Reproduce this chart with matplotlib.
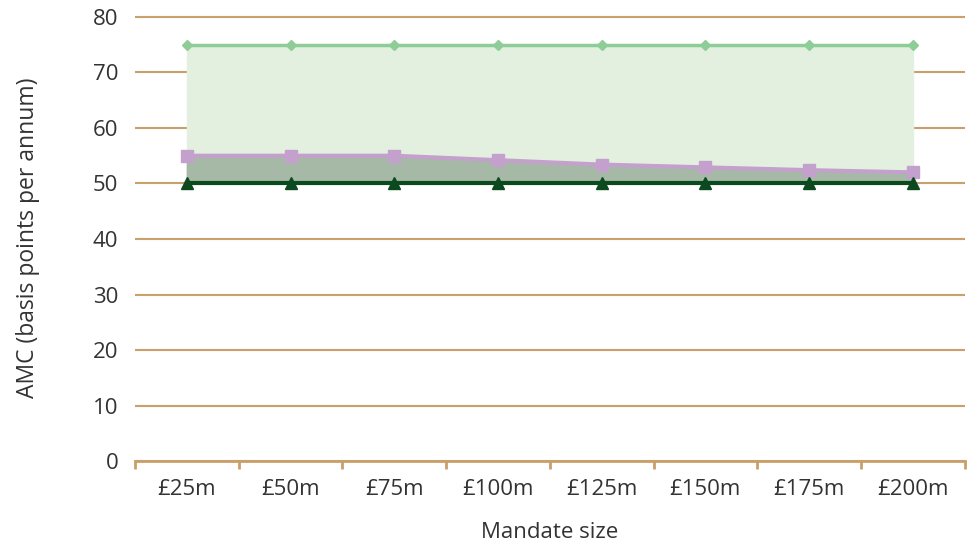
import numpy as np
from matplotlib import pyplot as plt
from matplotlib.ticker import FixedLocator

plt.rcParams['font.family'] = ['Open Sans', 'DejaVu Sans']

categories = ['£25m', '£50m', '£75m', '£100m', '£125m', '£150m', '£175m', '£200m']
upper = [75, 75, 75, 75, 75, 75, 75, 75]
middle = [55, 55, 55, 54.2, 53.4, 52.9, 52.4, 52.0]
lower = [50, 50, 50, 50, 50, 50, 50, 50]

grid_c = '#c9a06a'
x = np.arange(len(categories))

fig = plt.figure(figsize=(9.67, 5.45), dpi=100)
ax = fig.add_axes([0.1396, 0.154, 0.858, 0.82])

ax.fill_between(x, lower, upper, color='#e3f0e0', zorder=1)
ax.fill_between(x, lower, middle, color='#a6b9a6', zorder=2)
ax.plot(x, upper, color='#8fcd98', lw=2.5, marker='D', ms=5, zorder=4)
ax.plot(x, middle, color='#c4a0cc', lw=3, marker='s', ms=8, zorder=4)
ax.plot(x, lower, color='#0b4a1f', lw=3, marker='^', ms=8, zorder=5)

ax.set_xlim(-0.5, 7.5)
ax.set_ylim(0, 80.5)
ax.set_yticks(range(0, 81, 10))
ax.yaxis.grid(True, color=grid_c, lw=1.5)
ax.set_axisbelow(True)
for s in ['top', 'right', 'left']:
    ax.spines[s].set_visible(False)
ax.spines['bottom'].set_color(grid_c)
ax.spines['bottom'].set_linewidth(2)

ax.set_xticks(x)
ax.set_xticklabels(categories)
ax.xaxis.set_minor_locator(FixedLocator(np.arange(-0.5, 8, 1)))
ax.tick_params(axis='x', which='major', length=0, pad=13, labelsize=16, colors='#333333')
ax.tick_params(axis='x', which='minor', length=6, width=2, color=grid_c)
ax.tick_params(axis='y', length=0, pad=12, labelsize=16, labelcolor='#333333')

ax.set_xlabel('Mandate size', fontsize=16, color='#333333', labelpad=16)
ax.set_ylabel('AMC (basis points per annum)', fontsize=16.5, color='#333333', labelpad=38)

fig.savefig('out.png', dpi=100)
